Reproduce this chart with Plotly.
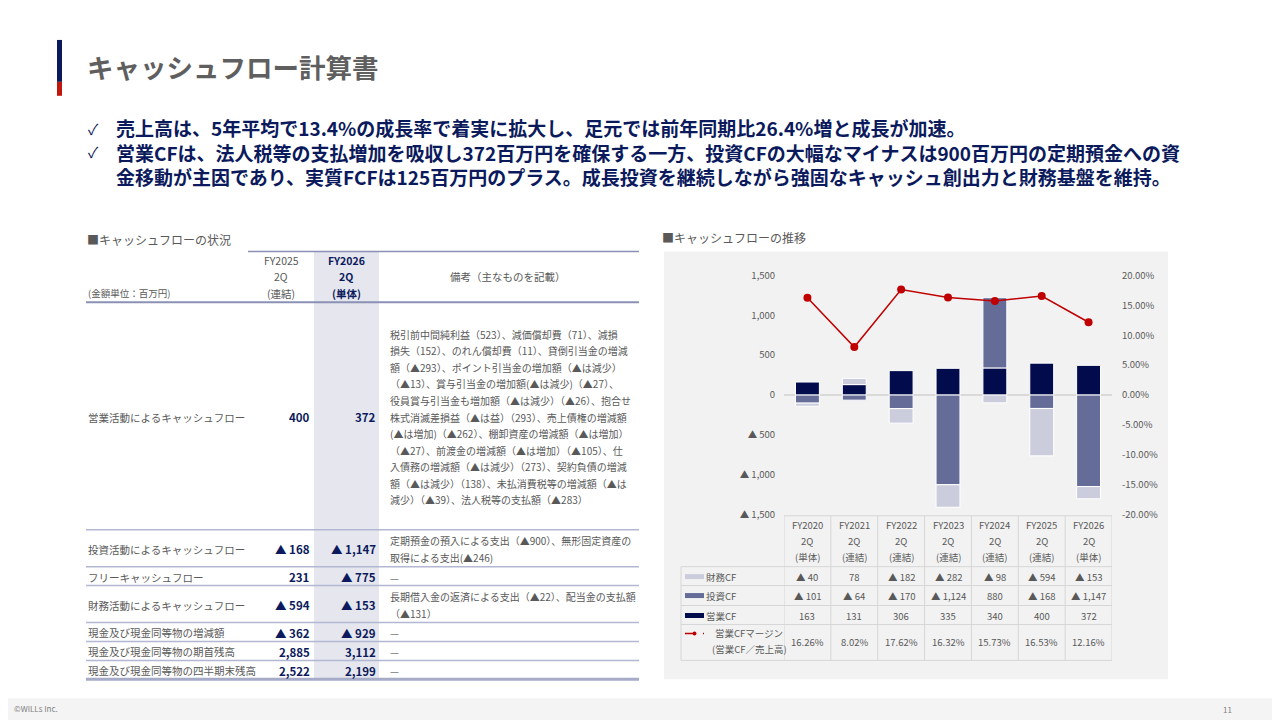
import plotly.graph_objects as go

W, H = 1280, 720
FONT = "Noto Sans CJK JP"
NAVY = "#0b1a5c"
GRAY = "#595959"

# ---------------- data ----------------
title = "キャッシュフロー計算書"
bullet_lines = [
    "売上高は、5年平均で13.4%の成長率で着実に拡大し、足元では前年同期比26.4%増と成長が加速。",
    "営業CFは、法人税等の支払増加を吸収し372百万円を確保する一方、投資CFの大幅なマイナスは900百万円の定期預金への資",
    "金移動が主因であり、実質FCFは125百万円のプラス。成長投資を継続しながら強固なキャッシュ創出力と財務基盤を維持。",
]
bullet_marks = ["✓", "✓"]

left_heading = "■キャッシュフローの状況"
right_heading = "■キャッシュフローの推移"
unit_label = "(金額単位：百万円)"
col_fy2025 = ["FY2025", "2Q", "(連結)"]
col_fy2026 = ["FY2026", "2Q", "(単体)"]
remarks_header = "備考（主なものを記載）"

row_labels = [
    "営業活動によるキャッシュフロー",
    "投資活動によるキャッシュフロー",
    "フリーキャッシュフロー",
    "財務活動によるキャッシュフロー",
    "現金及び現金同等物の増減額",
    "現金及び現金同等物の期首残高",
    "現金及び現金同等物の四半期末残高",
]
fy2025_vals = [400, -168, 231, -594, -362, 2885, 2522]
fy2026_vals = [372, -1147, -775, -153, -929, 3112, 2199]
remarks = [
    ["税引前中間純利益（523）、減価償却費（71）、減損",
     "損失（152）、のれん償却費（11）、貸倒引当金の増減",
     "額（▲293）、ポイント引当金の増加額（▲は減少）",
     "（▲13）、賞与引当金の増加額(▲は減少)（▲27）、",
     "役員賞与引当金も増加額（▲は減少）（▲26）、抱合せ",
     "株式消滅差損益（▲は益）（293）、売上債権の増減額",
     "(▲は増加)（▲262）、棚卸資産の増減額（▲は増加）",
     "（▲27）、前渡金の増減額（▲は増加）（▲105）、仕",
     "入債務の増減額（▲は減少）（273）、契約負債の増減",
     "額（▲は減少）（138）、未払消費税等の増減額（▲は",
     "減少）（▲39）、法人税等の支払額（▲283）"],
    ["定期預金の預入による支出（▲900）、無形固定資産の",
     "取得による支出(▲246)"],
    ["—"],
    ["長期借入金の返済による支出（▲22）、配当金の支払額",
     "（▲131）"],
    ["—"],
    ["—"],
    ["—"],
]

categories = ["FY2020", "FY2021", "FY2022", "FY2023", "FY2024", "FY2025", "FY2026"]
periods = ["2Q"] * 7
entities = ["(単体)", "(連結)", "(連結)", "(連結)", "(連結)", "(連結)", "(単体)"]
fin_cf = [-40, 78, -182, -282, -98, -594, -153]
inv_cf = [-101, -64, -170, -1124, 880, -168, -1147]
op_cf = [163, 131, 306, 335, 340, 400, 372]
op_margin = [16.26, 8.02, 17.62, 16.32, 15.73, 16.53, 12.16]
series_names = ["財務CF", "投資CF", "営業CF"]
margin_label = ["営業CFマージン", "(営業CF／売上高)"]

left_ticks = [-1500, -1000, -500, 0, 500, 1000, 1500]
right_ticks = [-20, -15, -10, -5, 0, 5, 10, 15, 20]

footer_left = "©WILLs Inc."
footer_right = "11"

# ---------------- colours ----------------
C_OP = "#020c4c"
C_INV = "#646c97"
C_FIN = "#cbcddd"
C_LINE = "#c00000"


def fmt(v):
    return "▲ {:,}".format(-v) if v < 0 else "{:,}".format(v)


# page-to-figure mapping (compensates page offset of the photographed page)
OX, OY, SY = 9, 16, 0.983


def px(x):
    return (x - OX) / W


def py(y):
    return 1 - ((y - OY) / SY) / H


annotations = []
shapes = []


def txt(x, y, s, size, color=GRAY, bold=False, xanchor="left", xref="paper"):
    annotations.append(dict(
        x=px(x) if xref == "paper" else x, y=py(y), xref=xref, yref="paper",
        text=("<b>%s</b>" % s) if bold else s, showarrow=False,
        xanchor=xanchor, yanchor="middle", align="left",
        font=dict(family=FONT, size=size, color=color), borderpad=0))


def rect(x0, y0, x1, y1, color, layer="below"):
    shapes.append(dict(type="rect", xref="paper", yref="paper",
                       x0=px(x0), x1=px(x1), y0=py(y0), y1=py(y1),
                       fillcolor=color, line=dict(width=0), layer=layer))


def hline(x0, x1, y, color, width, xref="paper"):
    shapes.append(dict(type="line", xref=xref, yref="paper",
                       x0=px(x0) if xref == "paper" else x0,
                       x1=px(x1) if xref == "paper" else x1,
                       y0=py(y), y1=py(y), line=dict(color=color, width=width)))


def vline(x, y0, y1, color, width, xref="paper"):
    shapes.append(dict(type="line", xref=xref, yref="paper",
                       x0=px(x) if xref == "paper" else x,
                       x1=px(x) if xref == "paper" else x,
                       y0=py(y0), y1=py(y1), line=dict(color=color, width=width)))


# ---------------- title area ----------------
rect(58, 40, 63, 82, "#0b1a5c")
rect(58, 82, 63, 96, "#c0160c")
txt(87, 67, title, 26.5, color="#5f5f5f", bold=True)

txt(88, 129, bullet_marks[0], 15, color=NAVY)
txt(88, 152, bullet_marks[1], 15, color=NAVY)
txt(116, 152, "<br>".join("<b>%s</b>" % l for l in bullet_lines), 19, color=NAVY)

# ---------------- left table ----------------
txt(87, 240, left_heading, 12)
T_L, T_R = 87, 640
rect(315, 252, 380, 681, "#e5e6ee")
hline(249, T_R, 252, "#8a91b4", 1.5)
hline(T_L, T_R, 303, "#8a91b4", 2)

for k, yy in enumerate([261, 277, 294]):
    txt(282, yy, col_fy2025[k], 10.5, xanchor="center")
    txt(347, yy, col_fy2026[k], 10.5, color=NAVY, bold=True, xanchor="center")
txt(88, 294, unit_label, 9.5)
txt(509, 277, remarks_header, 10.5, xanchor="center")

row_bounds = [303, 531, 568, 587, 624, 643, 662, 681]
for r, label in enumerate(row_labels):
    top, bot = row_bounds[r], row_bounds[r + 1]
    cy = (top + bot) / 2 + 1
    txt(88, cy, label, 10.5)
    txt(312, cy, fmt(fy2025_vals[r]), 11.5, color=NAVY, bold=True, xanchor="right")
    txt(378, cy, fmt(fy2026_vals[r]), 11.5, color=NAVY, bold=True, xanchor="right")
    lines = remarks[r]
    n = len(lines)
    step = 16.6 if n > 2 else 17
    for j, line in enumerate(lines):
        yy = cy - (n - 1) * step / 2 + j * step
        txt(390, yy, line, 10, color="#7a7a7a" if line == "—" else GRAY)
    if r > 0:
        hline(T_L, T_R, top, "#b3b8d2", 1.5)
hline(T_L, T_R, 681, "#a6abc8", 3)

# ---------------- right chart panel ----------------
txt(662, 238, right_heading, 12)
rect(665, 252, 1169, 681, "#f2f2f2")

# data table under the chart (columns bound to category axis)
TB_TOP = 517
row_lines = [568, 587, 607, 626, 662]
GRID = "#d6d6d6"
hline(-0.5, 6.5, TB_TOP, GRID, 1, xref="x")
for yy in row_lines:
    hline(682, 1113, yy, GRID, 1)
vline(682, 568, 662, GRID, 1)
for k in range(len(categories) + 1):
    vline(k - 0.5, TB_TOP, 662, GRID, 1, xref="x")

for k, c in enumerate(categories):
    txt(c, 526, c, 9.5, xanchor="center", xref="x")
    txt(c, 542, periods[k], 9.5, xanchor="center", xref="x")
    txt(c, 558, entities[k], 9.5, xanchor="center", xref="x")
    txt(c, 578, fmt(fin_cf[k]), 9.5, xanchor="center", xref="x")
    txt(c, 597, fmt(inv_cf[k]), 9.5, xanchor="center", xref="x")
    txt(c, 617, fmt(op_cf[k]), 9.5, xanchor="center", xref="x")
    txt(c, 644, "%.2f%%" % op_margin[k], 9.5, xanchor="center", xref="x")

for yy, col, name in [(578, C_FIN, series_names[0]), (597, C_INV, series_names[1]),
                      (617, C_OP, series_names[2])]:
    rect(686, yy - 2.5, 705, yy + 2.5, col, layer="above")
    txt(706, yy, name, 9.5)
shapes.append(dict(type="line", xref="paper", yref="paper", x0=px(686), x1=px(705),
                   y0=py(635), y1=py(635), line=dict(color=C_LINE, width=1.5, dash="dash")))
shapes.append(dict(type="circle", xref="paper", yref="paper", x0=px(693.5), x1=px(697.5),
                   y0=py(637), y1=py(633), fillcolor=C_LINE, line=dict(width=0)))
txt(715, 635, margin_label[0], 9.5)
txt(712, 651, margin_label[1], 9.5)

# ---------------- footer ----------------
rect(0, 700, 1290, 722, "#f4f4f4")
txt(14, 710, footer_left, 8, color="#7f7f7f")
txt(1228, 711, footer_right, 8, color="#7f7f7f", xanchor="center")

# ---------------- traces ----------------
fig = go.Figure()
fig.add_trace(go.Bar(x=categories, y=op_cf, name=series_names[2],
                     marker=dict(color=C_OP, line=dict(color="white", width=1))))
fig.add_trace(go.Bar(x=categories, y=inv_cf, name=series_names[1],
                     marker=dict(color=C_INV, line=dict(color="white", width=1))))
fig.add_trace(go.Bar(x=categories, y=fin_cf, name=series_names[0],
                     marker=dict(color=C_FIN, line=dict(color="white", width=1))))
fig.add_trace(go.Scatter(x=categories, y=op_margin, yaxis="y2", mode="lines+markers",
                         line=dict(color=C_LINE, width=1.5),
                         marker=dict(color=C_LINE, size=8), name="営業CFマージン"))

axis_font = dict(family=FONT, size=9.5, color=GRAY)
fig.update_layout(
    width=W, height=H, margin=dict(l=0, r=0, t=0, b=0),
    paper_bgcolor="white", plot_bgcolor="rgba(0,0,0,0)",
    showlegend=False, barmode="relative", bargap=0.49,
    xaxis=dict(domain=[px(785), px(1113)], range=[-0.5, 6.5], type="category",
               categoryorder="array", categoryarray=categories,
               showticklabels=False, showgrid=False, zeroline=False, showline=False),
    yaxis=dict(domain=[py(516), py(276)], range=[-1500, 1500],
               tickvals=left_ticks, ticktext=[fmt(v) for v in left_ticks],
               showgrid=False, zeroline=True, zerolinecolor="#d9d9d9", zerolinewidth=1.5,
               ticks="outside", ticklen=6, tickcolor="rgba(0,0,0,0)", tickfont=axis_font,
               showline=False),
    yaxis2=dict(overlaying="y", side="right", anchor="x", range=[-20, 20],
                tickvals=right_ticks, ticktext=["%.2f%%" % v for v in right_ticks],
                showgrid=False, zeroline=False, ticks="outside", ticklen=7,
                tickcolor="rgba(0,0,0,0)", tickfont=axis_font, showline=False),
    annotations=annotations, shapes=shapes,
    font=dict(family=FONT),
)

fig.write_html("out.html")
